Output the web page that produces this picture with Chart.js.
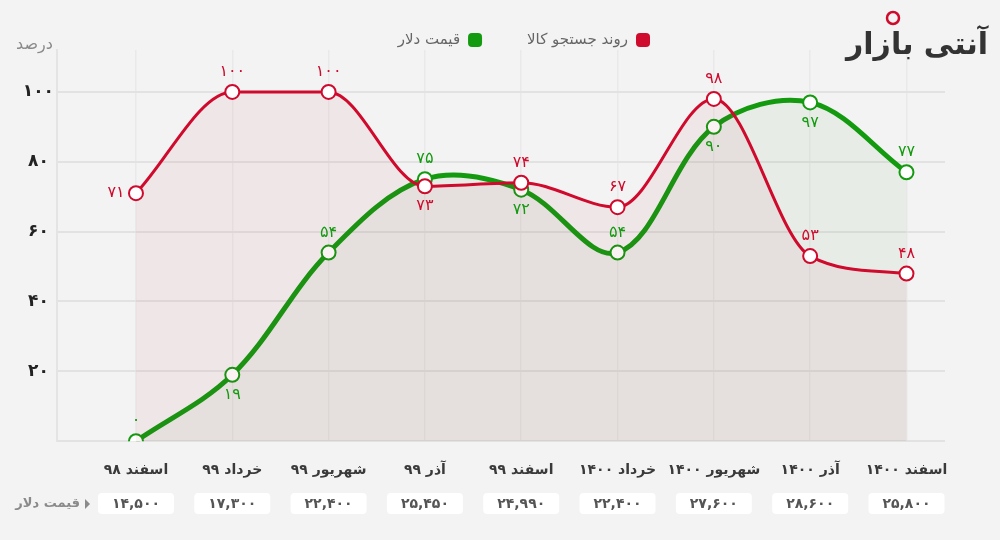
<!DOCTYPE html>
<html lang="fa">
<head>
<meta charset="utf-8">
<script src="https://cdn.jsdelivr.net/npm/chart.js@4.4.1/dist/chart.umd.min.js"></script>
<style>
  html, body { margin: 0; padding: 0; background: #f3f3f3; }
  #wrap { width: 1000px; height: 540px; position: relative; }
</style>
</head>
<body>
<div id="wrap"><canvas id="chart" width="1000" height="540"></canvas></div>
<script>
// ── Data ──────────────────────────────────────────────────────────────────────
const categories  = ['اسفند ۹۸', 'خرداد ۹۹', 'شهریور ۹۹', 'آذر ۹۹', 'اسفند ۹۹',
                     'خرداد ۱۴۰۰', 'شهریور ۱۴۰۰', 'آذر ۱۴۰۰', 'اسفند ۱۴۰۰'];
const searchTrend = [71, 100, 100, 73, 74, 67, 98, 53, 48];
const dollarTrend = [0, 19, 54, 75, 72, 54, 90, 97, 77];
const dollarPrice = [14500, 17300, 22400, 25450, 24990, 22400, 27600, 28600, 25800];
const yTicks      = [0, 20, 40, 60, 80, 100];

// label side for each point's value
const searchLabelSide = ['left', 'up', 'up', 'down', 'up', 'up', 'up', 'up', 'up'];
const dollarLabelSide = ['up', 'down', 'up', 'up', 'down', 'up', 'down', 'down', 'up'];

const RED   = '#cf0a2c';
const GREEN = '#139a0f';
const FONT  = '"DejaVu Sans", sans-serif';

const fa = s => String(s).replace(/\d/g, d => '۰۱۲۳۴۵۶۷۸۹'[d]);

// ── Value labels ──────────────────────────────────────────────────────────────
const valueLabels = {
  id: 'valueLabels',
  afterDatasetsDraw(chart) {
    const ctx = chart.ctx;
    const sides = [searchLabelSide, dollarLabelSide];
    ctx.save();
    ctx.font = '16px ' + FONT;
    ctx.textAlign = 'center';
    ctx.textBaseline = 'middle';
    chart.data.datasets.forEach((ds, di) => {
      ctx.fillStyle = ds.borderColor;
      chart.getDatasetMeta(di).data.forEach((pt, i) => {
        const side = sides[di][i];
        const dx = side === 'left' ? -20 : 0;
        const dy = side === 'up' ? -20 : side === 'down' ? 20 : 0;
        ctx.fillText(fa(ds.data[i].y), pt.x + dx, pt.y + dy);
      });
    });
    ctx.restore();
  }
};

// ── Extras: legend, axis title, price row, logo ───────────────────────────────
const extras = {
  id: 'extras',
  afterDraw(chart) {
    const ctx = chart.ctx;
    const x = chart.scales.x;
    ctx.save();
    ctx.textBaseline = 'middle';

    // legend (right to left)
    let lx = 650;
    ctx.font = '15px ' + FONT;
    chart.data.datasets.forEach(ds => {
      ctx.fillStyle = ds.borderColor;
      ctx.beginPath();
      ctx.roundRect(lx - 14, 33, 14, 14, 4);
      ctx.fill();
      ctx.fillStyle = '#666';
      ctx.textAlign = 'right';
      ctx.fillText(ds.label, lx - 22, 40);
      lx -= 22 + ctx.measureText(ds.label).width + 45;
    });

    // y axis title
    ctx.fillStyle = '#8a8a8a';
    ctx.font = '16px ' + FONT;
    ctx.textAlign = 'left';
    ctx.fillText('درصد', 16, 45);

    // price row
    dollarPrice.forEach((p, i) => {
      const cx = x.getPixelForValue(i);
      ctx.fillStyle = '#ffffff';
      ctx.beginPath();
      ctx.roundRect(cx - 38, 493, 76, 21, 4);
      ctx.fill();
      ctx.fillStyle = '#555';
      ctx.font = 'bold 14px ' + FONT;
      ctx.textAlign = 'center';
      ctx.fillText(fa(p.toLocaleString('en-US')), cx, 504);
    });
    ctx.fillStyle = '#8a8a8a';
    ctx.font = 'bold 13px ' + FONT;
    ctx.textAlign = 'right';
    ctx.fillText('قیمت دلار', 80, 504);
    ctx.beginPath();
    ctx.moveTo(85, 499);
    ctx.lineTo(90, 504);
    ctx.lineTo(85, 509);
    ctx.closePath();
    ctx.fill();

    // logo
    ctx.fillStyle = '#333';
    ctx.font = 'bold 30px ' + FONT;
    ctx.textAlign = 'right';
    ctx.fillText('آنتی بازار', 988, 46);
    ctx.strokeStyle = RED;
    ctx.lineWidth = 2.5;
    ctx.beginPath();
    ctx.arc(893, 18, 6, 0, Math.PI * 2);
    ctx.stroke();

    ctx.restore();
  }
};

// ── Chart ─────────────────────────────────────────────────────────────────────
const toPoints = arr => arr.map((v, i) => ({ x: i, y: v }));

new Chart(document.getElementById('chart').getContext('2d'), {
  type: 'line',
  data: {
    datasets: [
      {
        label: 'روند جستجو کالا',
        data: toPoints(searchTrend),
        borderColor: RED,
        backgroundColor: 'rgba(190, 40, 60, 0.06)',
        borderWidth: 3,
        fill: 'origin',
        cubicInterpolationMode: 'monotone',
        pointRadius: 7,
        pointBorderWidth: 2,
        pointBackgroundColor: '#fff',
        pointBorderColor: RED,
      },
      {
        label: 'قیمت دلار',
        data: toPoints(dollarTrend),
        borderColor: GREEN,
        backgroundColor: 'rgba(60, 140, 50, 0.06)',
        borderWidth: 5,
        fill: 'origin',
        tension: 0.35,
        pointRadius: 7,
        pointBorderWidth: 2,
        pointBackgroundColor: '#fff',
        pointBorderColor: GREEN,
      }
    ]
  },
  options: {
    responsive: false,
    animation: false,
    layout: { padding: { top: 50, left: 0, right: 55, bottom: 40 } },
    plugins: {
      tooltip: { enabled: false },
      legend: { display: false }
    },
    scales: {
      x: {
        type: 'linear',
        min: -0.82,
        max: 8.4,
        afterBuildTicks: s => { s.ticks = categories.map((_, i) => ({ value: i })); },
        ticks: {
          callback: v => categories[v],
          color: '#3a3a3a',
          font: { family: FONT, size: 14, weight: 'bold' },
          padding: 21,
          maxRotation: 0,
        },
        grid: { color: '#e9e9e9', lineWidth: 1.5, drawTicks: false },
        border: { display: false },
      },
      y: {
        min: 0,
        max: 112,
        afterBuildTicks: s => { s.ticks = yTicks.map(v => ({ value: v })); },
        afterFit: s => { s.width = 57; },
        ticks: {
          callback: v => (v === 0 ? '' : fa(v)),
          color: '#222',
          font: { family: FONT, size: 17, weight: 'bold' },
          crossAlign: 'center',
        },
        grid: { color: '#e2e2e2', lineWidth: 2, drawTicks: false },
        border: { color: '#e4e4e4', width: 2 },
      }
    }
  },
  plugins: [valueLabels, extras]
});
</script>
</body>
</html>
